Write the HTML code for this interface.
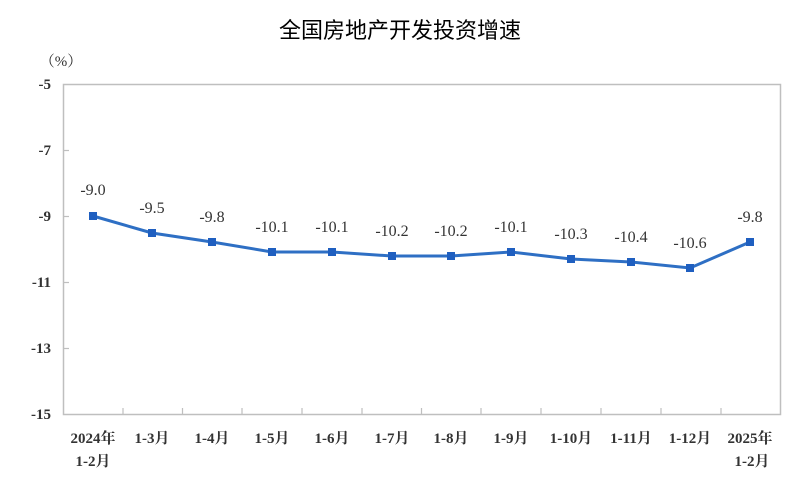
<!DOCTYPE html>
<html><head><meta charset="utf-8"><style>
body{margin:0;background:#fff;}
svg{display:block;}
</style></head><body>
<svg width="800" height="499" xmlns="http://www.w3.org/2000/svg">
<text x="400" y="38" text-anchor="middle" font-family="'Noto Sans CJK SC',sans-serif" font-size="22" fill="#000">全国房地产开发投资增速</text>
<text x="61" y="66" text-anchor="middle" font-family="'Liberation Serif','Noto Serif CJK SC',serif" font-size="15" fill="#333">（%）</text>
<rect x="63.5" y="84.5" width="717" height="330" fill="none" stroke="#bfbfbf" stroke-width="1.5"/>
<g stroke="#bfbfbf" stroke-width="1.2">
<line x1="63" y1="150.5" x2="69" y2="150.5"/>
<line x1="63" y1="216.5" x2="69" y2="216.5"/>
<line x1="63" y1="282.5" x2="69" y2="282.5"/>
<line x1="63" y1="348.5" x2="69" y2="348.5"/>
<line x1="123" y1="414" x2="123" y2="408"/><line x1="182.5" y1="414" x2="182.5" y2="408"/>
<line x1="242" y1="414" x2="242" y2="408"/><line x1="302" y1="414" x2="302" y2="408"/>
<line x1="362" y1="414" x2="362" y2="408"/><line x1="421.5" y1="414" x2="421.5" y2="408"/>
<line x1="481" y1="414" x2="481" y2="408"/><line x1="541" y1="414" x2="541" y2="408"/>
<line x1="601" y1="414" x2="601" y2="408"/><line x1="661" y1="414" x2="661" y2="408"/>
<line x1="721" y1="414" x2="721" y2="408"/>
</g>
<g font-family="'Liberation Serif',serif" font-size="15" font-weight="bold" fill="#333" text-anchor="end">
<text x="51" y="89">-5</text><text x="51" y="155">-7</text><text x="51" y="221">-9</text>
<text x="51" y="287">-11</text><text x="51" y="353">-13</text><text x="51" y="419">-15</text>
</g>
<polyline fill="none" stroke="#2e6fc4" stroke-width="3" points="93,216 152,233 212,242 272,252 332,252 392,256 451,256 511,252 571,259 631,262 690,268 750,242"/>
<g fill="#1f5fc0">
<rect x="89" y="212" width="8" height="8"/><rect x="148" y="229" width="8" height="8"/><rect x="208" y="238" width="8" height="8"/>
<rect x="268" y="248" width="8" height="8"/><rect x="328" y="248" width="8" height="8"/><rect x="388" y="252" width="8" height="8"/>
<rect x="447" y="252" width="8" height="8"/><rect x="507" y="248" width="8" height="8"/><rect x="567" y="255" width="8" height="8"/>
<rect x="627" y="258" width="8" height="8"/><rect x="686" y="264" width="8" height="8"/><rect x="746" y="238" width="8" height="8"/>
</g>
<g font-family="'Liberation Serif',serif" font-size="16" fill="#333" text-anchor="middle">
<text x="93" y="195">-9.0</text><text x="152" y="213">-9.5</text><text x="212" y="222">-9.8</text>
<text x="272" y="232">-10.1</text><text x="332" y="232">-10.1</text><text x="392" y="236">-10.2</text>
<text x="451" y="236">-10.2</text><text x="511" y="232">-10.1</text><text x="571" y="239">-10.3</text>
<text x="631" y="242">-10.4</text><text x="690" y="248">-10.6</text><text x="750" y="222">-9.8</text>
</g>
<g font-family="'Liberation Serif','Noto Serif CJK SC',serif" font-size="15" font-weight="bold" fill="#333" text-anchor="middle">
<text x="93" y="443">2024年</text><text x="93" y="466">1-2月</text>
<text x="152" y="443">1-3月</text><text x="212" y="443">1-4月</text><text x="272" y="443">1-5月</text>
<text x="332" y="443">1-6月</text><text x="392" y="443">1-7月</text><text x="451" y="443">1-8月</text>
<text x="511" y="443">1-9月</text><text x="571" y="443">1-10月</text><text x="631" y="443">1-11月</text>
<text x="690" y="443">1-12月</text><text x="750" y="443">2025年</text><text x="752" y="466">1-2月</text>
</g>
</svg>
</body></html>
